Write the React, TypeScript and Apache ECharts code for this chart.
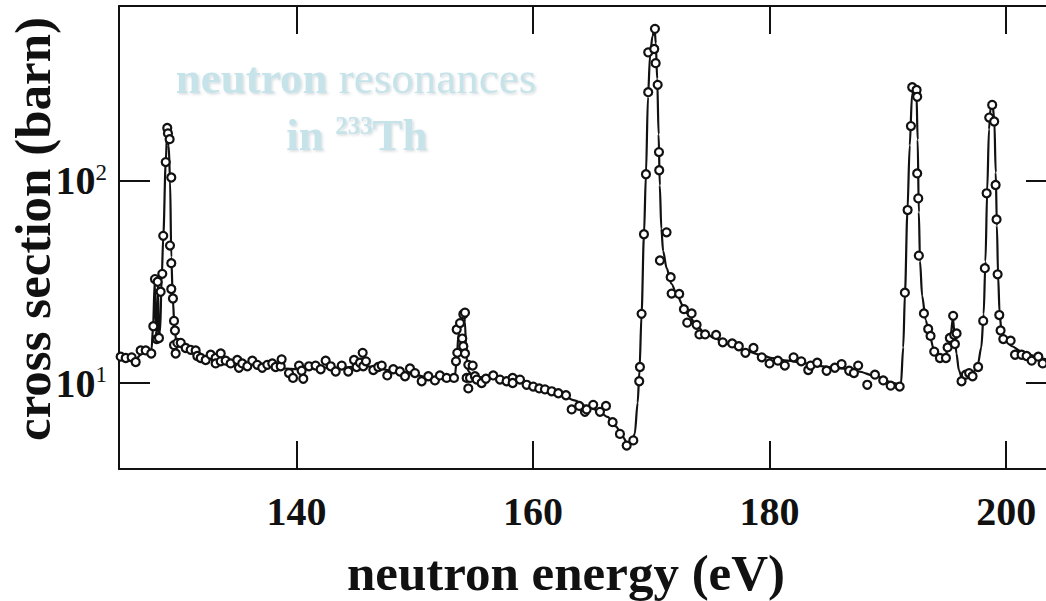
import React, { useEffect, useRef } from "react";
import * as echarts from "echarts";

const SERIF = '"Liberation Serif", "Times New Roman", serif';
const INK = "#111111";
const TITLE_BLUE = "#c6e3e9";

// axis ranges and tick positions
const energyMin = 125;
const energyMax = 204.3;
const sigmaMin = 3.753;
const sigmaMax = 734.5;
const energyTicks = [140, 160, 180, 200];
const sigmaTicks = [10, 100];

// measured points [energy eV, cross section barn]
const points125to130: number[][] = [
  [125.14, 13.5], [125.57, 13.3], [126.07, 13.4], [126.41, 12.7], [126.83, 14.5],
  [127.26, 14.5], [127.73, 14.0], [127.9, 19.1], [128.04, 32.7], [128.19, 16.5],
  [128.27, 31.7], [128.38, 16.7], [128.52, 28.3], [128.66, 34.7], [128.74, 53.5],
  [128.95, 124], [129.08, 183], [129.14, 172], [129.28, 161], [129.42, 104],
  [129.31, 47.9], [129.42, 39.2], [129.42, 29.2], [129.56, 26.2], [129.65, 20.3],
  [129.73, 18.2], [129.65, 15.4], [129.79, 14.0], [129.93, 15.8],
];

const points130to143: number[][] = [
  [130.22, 15.8], [130.64, 14.9], [131.06, 14.6], [131.48, 14.5], [131.62, 13.6],
  [131.91, 13.3], [132.33, 13.0], [132.75, 13.8], [133.17, 13.3], [133.17, 12.5],
  [133.6, 14.0], [133.6, 12.8], [134.02, 12.9], [134.44, 12.5], [135.0, 13.0],
  [135.14, 11.9], [135.42, 12.5], [135.85, 12.1], [136.27, 12.9], [136.69, 12.3],
  [137.11, 11.9], [137.54, 12.3], [137.96, 12.5], [138.24, 12.0], [138.67, 12.1],
  [138.75, 13.1], [139.37, 11.2], [139.71, 10.6], [140.22, 12.2], [140.44, 11.5],
  [140.58, 10.5], [141.06, 12.1], [141.62, 12.2], [142.05, 11.7], [142.47, 12.9],
  [142.9, 12.1], [143.32, 11.4],
];

const points143to162: number[][] = [
  [143.83, 12.2], [144.38, 11.4], [144.87, 13.0], [145.09, 12.0], [145.37, 12.6],
  [145.6, 14.1], [145.65, 12.1], [145.88, 12.8], [146.5, 11.6], [146.92, 12.0],
  [147.21, 12.2], [147.68, 10.9], [148.19, 11.7], [148.75, 11.4], [149.18, 10.8],
  [149.6, 11.8], [150.02, 11.2], [150.59, 10.2], [151.15, 10.8], [151.71, 10.3],
  [152.13, 10.9], [152.7, 10.6], [153.32, 10.6], [153.49, 12.8], [153.6, 14.1],
  [153.55, 18.4], [153.83, 19.8], [154.11, 21.9], [154.25, 22.3], [154.02, 16.6],
  [154.11, 15.2], [154.25, 14.0], [154.53, 12.3], [154.9, 12.2], [154.39, 10.6],
  [154.67, 10.6], [154.53, 9.4], [155.09, 10.8], [155.24, 10.4], [155.66, 10.0],
  [156.02, 10.5], [156.64, 10.9], [157.21, 10.4], [157.77, 10.2], [158.28, 10.6],
  [158.28, 10.0], [158.9, 10.4], [159.46, 9.8], [160.02, 9.6], [160.53, 9.4],
  [161.01, 9.3], [161.58, 9.1], [162.14, 8.9],
];

const points162to191: number[][] = [
  [162.79, 8.7], [163.27, 7.4], [163.91, 7.7], [164.39, 7.2], [164.53, 7.4],
  [165.09, 7.8], [165.66, 7.2], [166.17, 7.7], [166.73, 6.4], [167.35, 5.6],
  [167.92, 4.9], [168.48, 5.2], [168.98, 10.2], [169.04, 12.0], [169.18, 22.0],
  [169.38, 54.5], [169.55, 108], [169.74, 275], [169.74, 433], [170.25, 450],
  [170.31, 566], [170.37, 383], [170.54, 299], [170.65, 139], [170.67, 113],
  [171.29, 55.7], [170.73, 40.4], [171.64, 33.4], [171.72, 27.7], [172.36, 27.6],
  [172.76, 23.2], [173.41, 22.1], [173.04, 19.9], [173.83, 19.4], [174.07, 17.4],
  [174.55, 17.4], [175.48, 17.3], [176.04, 15.9], [176.84, 15.7], [177.4, 15.2],
  [177.96, 14.1], [178.64, 14.9], [179.34, 13.4], [180.0, 12.5], [180.7, 12.9],
  [181.29, 12.2], [182.03, 13.4], [182.68, 12.8], [183.27, 11.6], [183.47, 12.2],
  [184.03, 12.6], [184.82, 11.5], [185.52, 11.9], [186.09, 12.4], [186.73, 11.5],
  [187.13, 11.2], [187.49, 12.2], [188.26, 9.8], [188.91, 11.0], [189.61, 10.3],
  [190.24, 9.7], [191.0, 9.6],
];

const points191to204: number[][] = [
  [191.44, 28.0], [191.67, 71.8], [191.95, 187], [192.06, 291], [192.43, 282],
  [192.48, 261], [192.48, 109], [192.57, 82], [192.62, 42.7], [193.05, 22.1],
  [193.41, 18.5], [193.61, 17.1], [193.92, 14.3], [194.4, 13.3], [194.91, 13.3],
  [195.05, 15.0], [195.24, 16.7], [195.52, 21.5], [195.61, 17.3], [195.67, 15.6],
  [195.81, 17.6], [196.23, 10.2], [196.59, 11.0], [196.87, 11.2], [197.16, 10.8],
  [197.63, 12.0], [198.06, 20.3], [198.2, 37.0], [198.35, 86.9], [198.57, 206],
  [198.82, 238], [198.99, 197], [199.11, 95.5], [199.19, 64.5], [199.28, 34.5],
  [199.42, 21.7], [199.53, 18.2], [199.76, 16.5], [200.38, 16.2], [200.75, 13.8],
  [201.31, 13.8], [201.73, 13.6], [202.16, 12.9], [202.72, 13.5], [203.09, 12.5],
];

// resonance fit curve [energy eV, cross section barn]
const fitCurve: number[][] = [
  [125.0, 13.5], [125.8, 13.3], [126.4, 13.1], [126.9, 13.9], [127.4, 14.4],
  [127.75, 14.6], [127.88, 19], [128.02, 32], [128.12, 18], [128.2, 16.5],
  [128.28, 31], [128.38, 17], [128.48, 18], [128.6, 32], [128.75, 54],
  [128.95, 124], [129.08, 180], [129.2, 150], [129.32, 100], [129.42, 42],
  [129.55, 26], [129.7, 18.5], [129.85, 16], [130.1, 15.2], [130.6, 14.5],
  [131.2, 14.0], [132, 13.4], [133, 13.0], [134, 12.8], [135, 12.6],
  [136, 12.4], [137, 12.2], [138, 12.0], [139, 11.8], [140, 11.7],
  [141, 11.8], [142, 11.9], [143, 11.9], [144, 11.9], [145, 12.1],
  [146, 12.1], [147, 11.8], [148, 11.5], [149, 11.3], [150, 11.0],
  [151, 10.7], [152, 10.6], [153, 10.6], [153.4, 10.9], [153.55, 13],
  [153.7, 17.5], [153.9, 20], [154.15, 22], [154.25, 20], [154.35, 14],
  [154.5, 11.5], [154.8, 11.0], [155.5, 10.7], [156.5, 10.6], [157.5, 10.4],
  [158.5, 10.2], [159.5, 9.9], [160.5, 9.5], [161.5, 9.1], [162.5, 8.7],
  [163.5, 8.2], [164.5, 7.7], [165.5, 7.3], [166.3, 6.8], [167.0, 6.1],
  [167.6, 5.4], [168.0, 5.0], [168.3, 5.0], [168.6, 5.6], [168.85, 8],
  [169.0, 11.5], [169.18, 22], [169.38, 54], [169.55, 108], [169.72, 260],
  [169.9, 420], [170.1, 520], [170.28, 570], [170.38, 480], [170.5, 320],
  [170.62, 170], [170.72, 95], [170.85, 58], [171.0, 45], [171.3, 37],
  [171.7, 31], [172.2, 27], [172.7, 24], [173.2, 21.5], [173.8, 19.3],
  [174.5, 17.8], [175.3, 16.7], [176.2, 15.8], [177.2, 15.0], [178.2, 14.3],
  [179.2, 13.8], [180.2, 13.3], [181.5, 12.9], [183, 12.5], [184.5, 12.1],
  [186, 11.8], [187.5, 11.4], [189, 10.8], [190.5, 10.0], [191.1, 9.8],
  [191.3, 15], [191.45, 28], [191.65, 70], [191.85, 150], [192.05, 270],
  [192.25, 300], [192.42, 270], [192.52, 160], [192.62, 70], [192.72, 40],
  [192.9, 27], [193.2, 20.5], [193.5, 17.5], [193.9, 14.6], [194.3, 13.5],
  [194.8, 13.3], [195.05, 14.5], [195.3, 17], [195.5, 21], [195.65, 17],
  [195.8, 14], [196.0, 11.6], [196.3, 10.4], [196.7, 10.7], [197.2, 11.2],
  [197.6, 12.3], [197.9, 15], [198.1, 22], [198.25, 40], [198.4, 90],
  [198.55, 180], [198.7, 235], [198.85, 240], [199.0, 200], [199.12, 110],
  [199.22, 60], [199.32, 34], [199.45, 22], [199.6, 18.3], [199.9, 16.4],
  [200.5, 15.2], [201.2, 14.4], [202, 13.8], [203, 13.2], [204.3, 12.8],
];

const measuredPoints = [
  ...points125to130,
  ...points130to143,
  ...points143to162,
  ...points162to191,
  ...points191to204,
];

const powerLabel = (v: number) => {
  if (Math.abs(v - 10) < 0.01) return "{n|10}{s|1}";
  if (Math.abs(v - 100) < 0.1) return "{n|10}{s|2}";
  return "";
};

const frameLine = { show: true, onZero: false, lineStyle: { color: INK, width: 2 } };

const titleShadow = {
  textShadowColor: "rgba(70,100,110,0.22)",
  textShadowBlur: 2,
  textShadowOffsetX: 1.5,
  textShadowOffsetY: 1.5,
};

export default function App() {
  const ref = useRef<HTMLDivElement>(null);

  useEffect(() => {
    if (!ref.current) return;
    const chart = echarts.init(ref.current, null, { renderer: "svg" });
    chart.setOption({
      animation: false,
      backgroundColor: "#ffffff",
      grid: { left: 119, top: 6, right: 13, bottom: 132, containLabel: false },
      xAxis: [
        {
          type: "value",
          position: "bottom",
          min: energyMin,
          max: energyMax,
          axisLine: frameLine,
          axisTick: {
            show: true,
            inside: true,
            length: 28,
            customValues: energyTicks,
            lineStyle: { color: INK, width: 2 },
          },
          axisLabel: {
            customValues: energyTicks,
            margin: 22,
            fontSize: 40,
            fontWeight: "bold",
            fontFamily: SERIF,
            color: INK,
          },
          splitLine: { show: false },
        },
        {
          type: "value",
          position: "top",
          min: energyMin,
          max: energyMax,
          axisLine: frameLine,
          axisTick: {
            show: true,
            inside: true,
            length: 28,
            customValues: energyTicks,
            lineStyle: { color: INK, width: 2 },
          },
          axisLabel: { show: false },
          splitLine: { show: false },
        },
      ],
      yAxis: [
        {
          type: "log",
          logBase: 10,
          position: "left",
          min: sigmaMin,
          max: sigmaMax,
          axisLine: frameLine,
          axisTick: {
            show: true,
            inside: true,
            length: 31,
            customValues: sigmaTicks,
            lineStyle: { color: INK, width: 2 },
          },
          axisLabel: {
            showMinLabel: false,
            showMaxLabel: false,
            margin: 12,
            formatter: powerLabel,
            rich: {
              n: { fontSize: 40, fontWeight: "bold", fontFamily: SERIF, color: INK },
              s: {
                fontSize: 23,
                fontFamily: SERIF,
                color: INK,
                verticalAlign: "top",
              },
            },
          },
          splitLine: { show: false },
        },
        {
          type: "log",
          logBase: 10,
          position: "right",
          min: sigmaMin,
          max: sigmaMax,
          axisLine: frameLine,
          axisTick: {
            show: true,
            inside: true,
            length: 31,
            customValues: sigmaTicks,
            lineStyle: { color: INK, width: 2 },
          },
          axisLabel: { show: false },
          splitLine: { show: false },
        },
      ],
      graphic: [
        {
          type: "text",
          x: 566,
          y: 573,
          style: {
            text: "neutron energy (eV)",
            fontSize: 51,
            fontWeight: "bold",
            fontFamily: SERIF,
            fill: INK,
            align: "center",
            verticalAlign: "middle",
          },
        },
        {
          type: "text",
          x: 33,
          y: 229,
          rotation: Math.PI / 2,
          style: {
            text: "cross section (barn)",
            fontSize: 51,
            fontWeight: "bold",
            fontFamily: SERIF,
            fill: INK,
            align: "center",
            verticalAlign: "middle",
          },
        },
        {
          type: "text",
          x: 356,
          y: 78,
          z: 0,
          style: {
            text: "{b|neutron\u00a0}{r|resonances}",
            align: "center",
            verticalAlign: "middle",
            rich: {
              b: { fontSize: 45, fontWeight: "bold", fontFamily: SERIF, fill: TITLE_BLUE, ...titleShadow },
              r: { fontSize: 45, fontFamily: SERIF, fill: TITLE_BLUE, ...titleShadow },
            },
          },
        },
        {
          type: "text",
          x: 357,
          y: 135,
          z: 0,
          style: {
            text: "{b|in\u00a0}{s|233}{b|Th}",
            align: "center",
            verticalAlign: "middle",
            rich: {
              b: { fontSize: 45, fontWeight: "bold", fontFamily: SERIF, fill: TITLE_BLUE, ...titleShadow },
              s: {
                fontSize: 25,
                fontWeight: "bold",
                fontFamily: SERIF,
                fill: TITLE_BLUE,
                verticalAlign: "top",
                ...titleShadow,
              },
            },
          },
        },
      ],
      series: [
        {
          type: "line",
          data: fitCurve,
          xAxisIndex: 0,
          yAxisIndex: 0,
          symbol: "none",
          smooth: 0.3,
          smoothMonotone: "x",
          lineStyle: { color: INK, width: 2.2 },
          z: 3,
          silent: true,
        },
        {
          type: "scatter",
          data: measuredPoints,
          xAxisIndex: 0,
          yAxisIndex: 0,
          symbol: "circle",
          symbolSize: 8,
          itemStyle: { color: "#ffffff", borderColor: INK, borderWidth: 2.2, opacity: 1 },
          z: 4,
          silent: true,
        },
      ],
    });
    return () => chart.dispose();
  }, []);

  return (
    <div
      style={{
        position: "fixed",
        left: 0,
        top: 0,
        width: 1046,
        height: 601,
        overflow: "hidden",
        background: "#ffffff",
      }}
    >
      <div ref={ref} style={{ width: 1070, height: 601 }} />
    </div>
  );
}
